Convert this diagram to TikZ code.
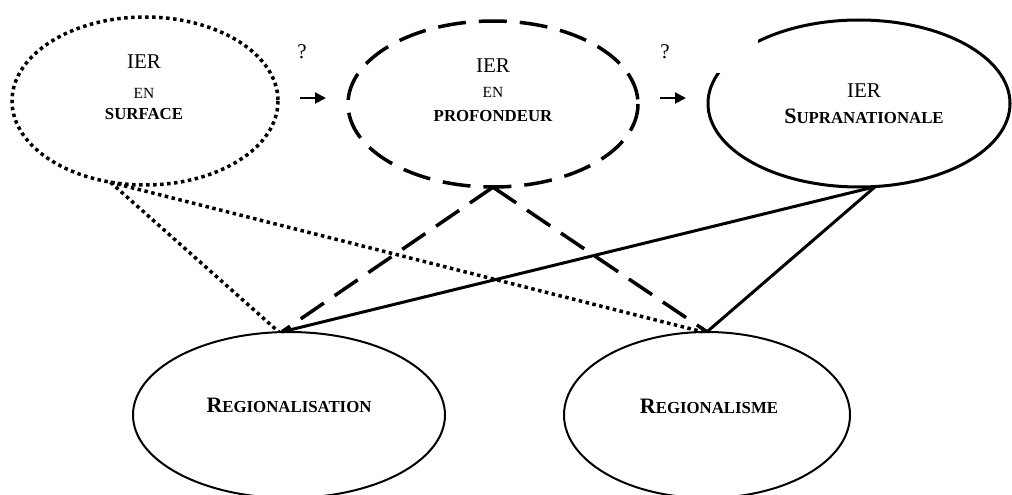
\documentclass[tikz,border=0pt]{standalone}
\usepackage{fontspec}
\setmainfont{Liberation Serif}
\usetikzlibrary{shapes.geometric,arrows.meta}
\newcommand{\szA}{\fontsize{21}{23}\selectfont}
\newcommand{\szB}{\fontsize{15.5}{17}\selectfont}
\newcommand{\szC}{\fontsize{16.8}{18}\selectfont}
\newcommand{\szD}{\fontsize{22}{24}\selectfont}
\begin{document}
\begin{tikzpicture}[x=1pt,y=-1pt,
  ellbase/.style={ellipse, inner sep=0pt},
  dotline/.style={line width=3.5pt, dash pattern=on 3.5pt off 3.5pt},
  dashline/.style={line width=3.5pt, dash pattern=on 28pt off 13pt},
  solidline/.style={line width=3pt},
  thinline/.style={line width=2pt},
  lbl/.style={inner sep=0pt, anchor=center},
  qarrow/.style={line width=2pt, -{Triangle[length=11pt,width=11pt]}}]
\useasboundingbox (0,0) rectangle (1012,495);
\clip (0,0) rectangle (1012,495);
% ellipses (shapes only)
\node[ellbase, minimum width=266pt, minimum height=168pt] (e1) at (145,101) {};
\node[ellbase, minimum width=290pt, minimum height=166pt] (e2) at (493,104) {};
\node[ellbase, minimum width=302pt, minimum height=167pt] (e3) at (859,103.5) {};
\node[ellbase, minimum width=312pt, minimum height=166pt] (r1) at (289,415) {};
\node[ellbase, minimum width=286pt, minimum height=166pt] (r2) at (707,415) {};
% connectors
\draw[dotline] (e1.247) -- (r1.97);
\draw[dotline] (e1.247) -- (r2.93);
\draw[dashline] (e2.south) -- (r1.95);
\draw[dashline] (e2.south) -- (r2.north);
\draw[solidline] (e3.281) -- (r1.95);
\draw[solidline] (e3.281) -- (r2.north);
% outlines
\draw[dotline] (e1.center) ellipse [x radius=133, y radius=84];
\draw[dashline] (e2.center) ellipse [x radius=145, y radius=83];
\draw[solidline] (e3.center) ellipse [x radius=151, y radius=83.5];
\fill[white] (700,0) rectangle (758,73);
\draw[thinline] (r1.center) ellipse [x radius=156, y radius=83];
\draw[thinline] (r2.center) ellipse [x radius=143, y radius=83];
% arrows and question marks
\coordinate (a1s) at (300,98);
\coordinate (a1e) at (326,98);
\coordinate (a2s) at (660,98);
\coordinate (a2e) at (686,98);
\draw[qarrow] (a1s) -- (a1e);
\draw[qarrow] (a2s) -- (a2e);
\node[lbl] (q1) at (302,52) {\szA ?};
\node[lbl] (q2) at (665,52) {\szA ?};
% texts
\node[lbl] (t1a) at (144,62) {\szA IER};
\node[lbl] (t1b) at (144,93) {\szB EN};
\node[lbl] (t1c) at (144,114) {\szC\bfseries SURFACE};
\node[lbl] (t2a) at (493,66) {\szA IER};
\node[lbl] (t2b) at (493,92) {\szB EN};
\node[lbl] (t2c) at (493,116) {\szC\bfseries PROFONDEUR};
\node[lbl] (t3a) at (864,91) {\szA IER};
\node[lbl] (t3b) at (864,116) {\bfseries{\szD S}{\szC UPRANATIONALE}};
\node[lbl] (t4) at (289,405) {\bfseries{\szD R}{\szC EGIONALISATION}};
\node[lbl] (t5) at (709,406) {\bfseries{\szD R}{\szC EGIONALISME}};
\end{tikzpicture}
\end{document}
